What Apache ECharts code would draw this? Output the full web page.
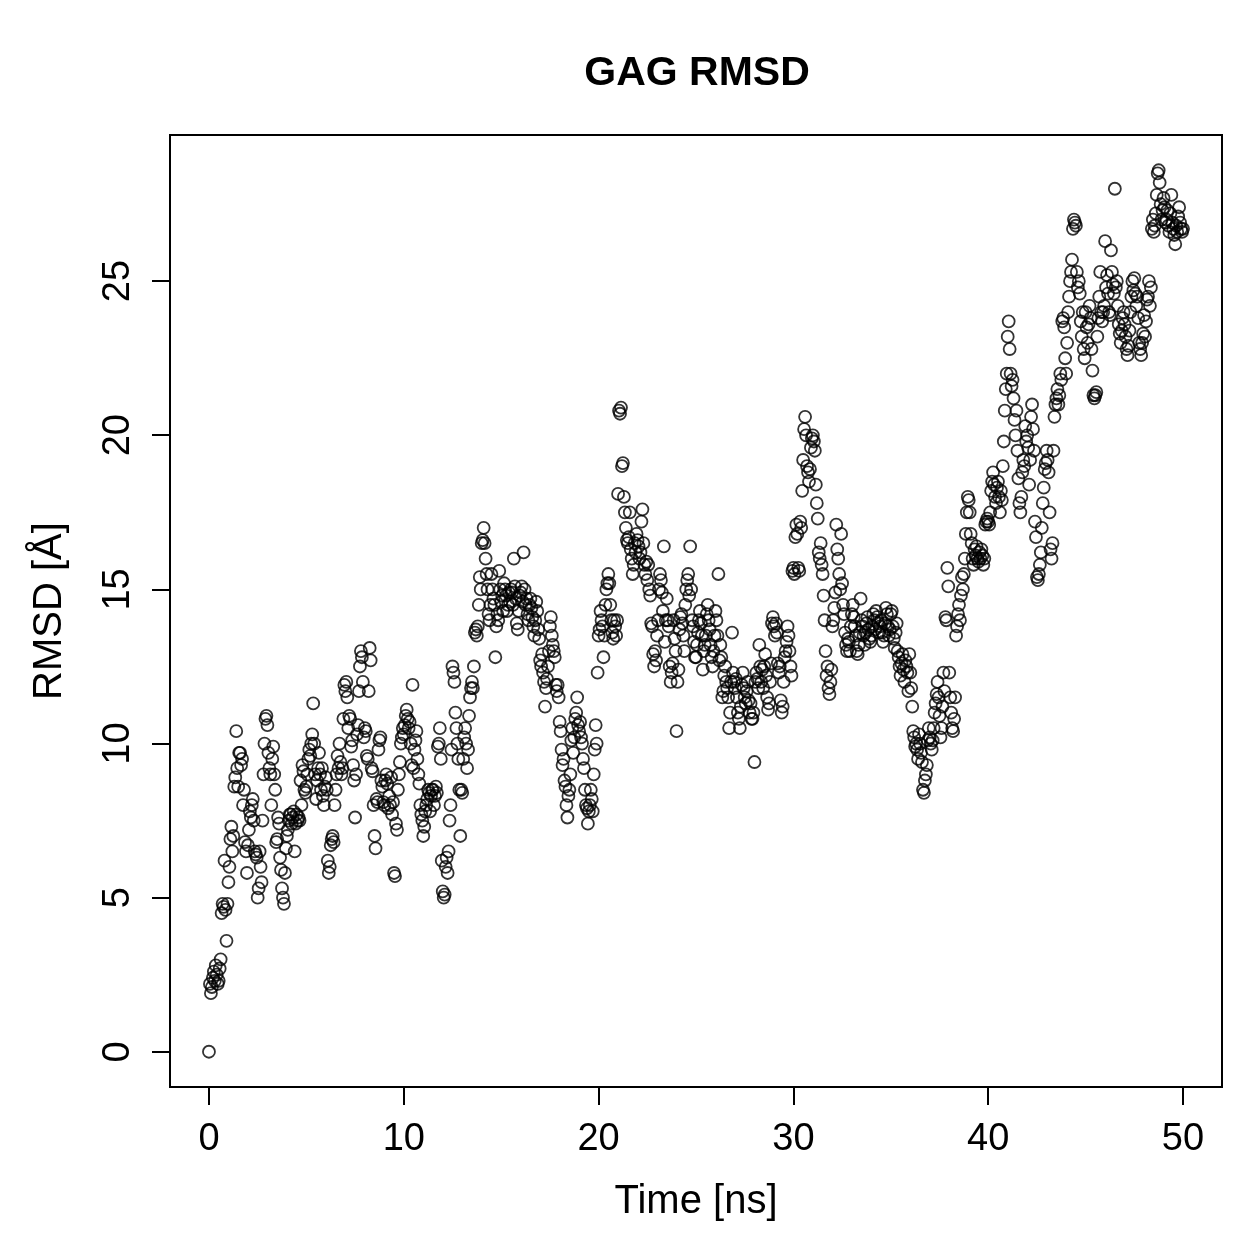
<!DOCTYPE html>
<html>
<head>
<meta charset="utf-8">
<script src="https://cdn.jsdelivr.net/npm/echarts@6/dist/echarts.min.js"></script>
<style>
  html, body { margin: 0; padding: 0; background: #fff; }
  #chart { width: 1259px; height: 1259px; }
</style>
</head>
<body>
<div id="chart"></div>
<script>
// sampling step of the trajectory (ns)
const timeStep = 0.05;

// RMSD [Å], one row per ns (20 frames each)
const rmsd = [
  0.0, 2.2, 1.9, 2.1, 2.4, 2.6, 2.3, 2.8, 2.5, 2.2, 2.3, 2.7, 3.0, 4.5, 4.8, 4.7, 6.2, 4.6, 3.6, 4.8,
  5.5, 6.0, 6.9, 7.3, 6.5, 7.0, 8.6, 8.9, 10.4, 9.2, 8.6, 9.7, 9.7, 9.3, 9.5, 8.0, 8.5, 6.8, 6.5, 5.8,
  6.7, 7.2, 7.8, 7.6, 8.0, 8.2, 7.5, 6.5, 6.4, 6.3, 5.0, 5.3, 6.5, 6.0, 5.5, 7.5, 9.0, 10.0, 10.8, 10.9,
  10.6, 9.7, 9.2, 9.0, 8.0, 9.5, 9.9, 9.0, 8.5, 6.8, 6.9, 7.6, 7.4, 6.3, 5.9, 5.3, 5.0, 4.8, 5.8, 6.6,
  7.0, 7.2, 7.5, 7.7, 7.7, 7.4, 7.6, 7.8, 6.5, 7.4, 7.7, 7.5, 7.6, 7.5, 8.8, 8.0, 9.3, 9.1, 8.5, 8.4,
  8.6, 9.0, 9.5, 9.8, 9.6, 10.0, 10.3, 11.3, 10.0, 9.0, 8.2, 8.8, 9.2, 9.7, 9.0, 8.5, 9.2, 8.3, 8.0, 8.6,
  8.9, 8.5, 6.2, 5.8, 6.0, 6.7, 6.9, 7.0, 6.8, 8.0, 8.5, 9.0, 9.6, 9.2, 10.0, 9.4, 9.0, 9.2, 10.8, 11.9,
  11.7, 12.0, 11.5, 10.5, 10.9, 10.8, 9.9, 10.1, 9.3, 8.8, 7.6, 9.0, 10.3, 10.6, 11.7, 12.5, 13.0, 12.8, 12.0, 10.2,
  10.5, 10.4, 9.6, 9.5, 11.7, 13.1, 12.7, 9.2, 9.1, 8.0, 7.0, 6.6, 8.2, 8.1, 9.8, 10.1, 10.2, 8.8, 8.6, 8.1,
  8.0, 8.8, 9.0, 8.7, 7.9, 8.3, 8.0, 8.9, 7.7, 8.1, 5.8, 5.7, 7.4, 7.2, 8.5, 9.0, 9.4, 10.0, 10.2, 10.5,
  10.3, 10.6, 10.9, 11.1, 10.8, 10.5, 10.7, 10.0, 9.3, 11.9, 9.2, 9.8, 10.1, 10.4, 9.5, 9.0, 8.7, 8.0, 7.7, 7.5,
  7.0, 7.3, 7.8, 8.0, 8.2, 8.5, 8.4, 7.8, 8.3, 8.5, 8.5, 8.0, 8.3, 8.6, 8.4, 9.9, 10.0, 10.5, 9.5, 6.2,
  5.2, 5.0, 5.1, 6.0, 6.3, 5.8, 6.5, 7.5, 8.0, 9.8, 12.5, 12.3, 12.0, 11.0, 10.5, 10.0, 9.5, 8.5, 7.0, 8.5,
  8.4, 9.5, 10.2, 10.5, 10.0, 9.2, 9.8, 10.9, 11.5, 11.8, 12.0, 11.8, 12.5, 13.6, 13.7, 13.5, 13.8, 14.5, 15.4, 15.0,
  16.5, 16.6, 17.0, 16.5, 16.0, 15.5, 15.0, 14.2, 14.0, 14.5, 15.5, 15.0, 14.7, 14.5, 12.8, 13.8, 14.2, 14.0, 15.6, 15.0,
  14.6, 14.8, 14.3, 15.2, 15.0, 14.8, 14.3, 14.5, 14.9, 14.6, 15.0, 14.9, 14.5, 16.0, 15.1, 14.7, 13.9, 13.7, 14.3, 14.8,
  14.9, 15.1, 14.6, 16.2, 15.0, 14.5, 14.7, 14.2, 14.0, 14.5, 14.7, 14.4, 14.1, 13.8, 13.5, 14.0, 14.6, 14.3, 13.7, 13.4,
  12.7, 12.5, 12.9, 12.3, 12.0, 11.2, 11.8, 12.1, 12.5, 13.0, 13.8, 14.1, 13.5, 13.2, 13.0, 12.8, 11.9, 11.7, 11.9, 11.5,
  10.7, 10.4, 9.8, 9.3, 9.5, 8.8, 8.6, 8.0, 7.6, 8.3, 8.5, 9.0, 10.1, 10.5, 9.7, 10.2, 10.8, 11.0, 11.5, 10.6,
  10.4, 10.7, 10.2, 10.0, 9.5, 9.2, 8.5, 8.0, 7.9, 7.4, 7.8, 8.0, 8.5, 8.2, 7.8, 9.0, 9.8, 10.6, 10.0, 12.3,
  13.5, 13.7, 14.3, 14.0, 13.8, 12.8, 13.5, 14.5, 15.0, 15.2, 15.5, 15.2, 14.5, 14.0, 13.6, 13.4, 14.0, 13.8, 13.5, 14.0,
  18.1, 20.8, 20.7, 20.9, 19.0, 19.1, 18.0, 17.5, 17.0, 16.6, 16.5, 16.7, 17.5, 16.3, 16.0, 15.5, 15.8, 16.5, 16.2, 16.8,
  16.6, 16.4, 16.0, 16.2, 17.2, 17.6, 16.5, 15.8, 15.5, 15.9, 15.3, 15.8, 15.0, 14.8, 13.9, 13.8, 12.9, 12.5, 13.0, 12.7,
  13.5, 14.0, 15.0, 15.5, 15.3, 14.9, 14.3, 16.4, 13.3, 14.0, 14.7, 14.0, 13.8, 12.5, 12.0, 12.3, 12.6, 14.0, 13.4, 13.0,
  10.4, 12.0, 12.4, 13.7, 14.1, 14.2, 13.9, 13.5, 13.0, 14.5, 15.0, 15.3, 15.5, 14.8, 16.4, 15.0, 14.0, 13.8, 13.3, 12.8,
  12.8, 13.2, 13.6, 14.0, 14.3, 13.9, 13.5, 12.4, 13.0, 13.2, 13.5, 14.2, 14.5, 14.0, 13.7, 13.2, 12.8, 12.5, 13.0, 13.5,
  14.3, 14.0, 13.5, 15.5, 12.7, 13.2, 12.8, 11.5, 11.7, 12.2, 12.5, 12.0, 11.8, 11.5, 10.5, 11.0, 12.0, 13.6, 12.3, 12.0,
  11.8, 12.1, 11.5, 11.0, 10.8, 10.5, 11.2, 11.9, 12.3, 11.8, 11.5, 11.3, 11.7, 12.0, 11.4, 11.0, 11.3, 10.8, 10.8, 11.0,
  9.4, 12.0, 12.3, 12.1, 11.8, 13.2, 12.5, 12.0, 12.4, 11.8, 12.5, 12.9, 12.2, 11.5, 11.1, 11.3, 12.0, 12.6, 13.9, 14.1,
  13.8, 13.5, 13.9, 13.6, 12.6, 12.3, 12.5, 11.4, 11.0, 11.2, 12.0, 12.8, 13.0, 13.3, 13.8, 13.5, 13.0, 12.5, 12.2, 15.6,
  15.7, 15.5, 16.7, 17.1, 16.8, 15.7, 15.6, 17.2, 17.0, 18.2, 19.2, 20.2, 20.6, 20.0, 19.0, 18.8, 18.5, 18.9, 19.6, 19.9,
  20.0, 19.8, 19.5, 18.4, 17.8, 17.3, 16.2, 16.0, 16.5, 15.8, 15.5, 14.8, 14.0, 13.0, 12.2, 12.5, 11.8, 11.6, 12.0, 12.4,
  13.8, 14.0, 14.4, 14.9, 17.1, 16.3, 16.0, 15.5, 15.0, 16.8, 15.2, 14.5, 14.2, 13.6, 13.2, 13.0, 13.4, 13.3, 13.0, 13.8,
  14.2, 14.5, 14.1, 13.8, 13.5, 13.0, 12.9, 13.2, 13.6, 14.7, 14.0, 13.8, 13.5, 13.2, 13.6, 13.9, 14.1, 13.7, 13.4, 13.3,
  13.5, 13.8, 14.2, 14.0, 13.7, 14.3, 14.1, 13.9, 13.6, 13.8, 14.0, 13.6, 13.3, 13.5, 13.9, 14.4, 14.2, 13.8, 13.5, 13.7,
  14.2, 14.3, 13.8, 13.4, 13.1, 13.6, 13.9, 13.0, 12.8, 12.5, 12.2, 12.6, 12.9, 12.4, 12.0, 12.7, 12.5, 12.3, 11.7, 12.9,
  12.3, 11.8, 11.2, 10.4, 10.2, 9.9, 10.0, 9.8, 9.5, 10.3, 10.0, 9.7, 9.4, 8.5, 8.4, 8.8, 9.0, 9.3, 10.1, 10.5,
  10.2, 10.0, 9.8, 10.1, 10.5, 11.0, 11.3, 11.6, 12.0, 11.5, 10.9, 10.2, 10.5, 11.2, 12.3, 11.7, 14.1, 14.0, 15.7, 15.1,
  12.3, 11.5, 11.0, 10.5, 10.4, 10.8, 11.5, 13.5, 13.8, 14.2, 14.5, 14.0, 14.8, 15.4, 15.0, 15.5, 16.0, 16.8, 17.5, 18.0,
  17.9, 17.5, 16.8, 16.5, 16.0, 15.8, 16.3, 16.1, 16.4, 16.0, 15.9, 16.2, 16.0, 16.3, 16.1, 15.8, 16.0, 17.1, 17.2, 17.3,
  17.2, 17.1, 17.5, 18.2, 18.5, 18.8, 18.4, 18.0, 17.8, 18.3, 18.5, 18.0, 17.5, 18.2, 17.9, 19.0, 19.8, 20.8, 21.5, 22.0,
  23.2, 23.7, 22.8, 22.0, 21.6, 21.8, 21.2, 20.5, 20.0, 20.8, 19.5, 18.6, 17.8, 17.5, 18.0, 18.8, 19.2, 19.0, 20.3, 19.8,
  20.0, 19.6, 18.4, 19.2, 20.6, 21.0, 20.2, 19.5, 17.2, 16.7, 15.4, 15.3, 15.5, 15.8, 16.2, 17.0, 17.8, 18.3, 18.9, 19.1,
  19.5, 19.2, 18.8, 17.5, 16.3, 16.0, 16.5, 19.5, 20.6, 21.0, 21.2, 21.5, 21.0, 21.3, 22.0, 21.8, 23.7, 23.8, 23.5, 22.5,
  22.0, 23.0, 24.0, 24.5, 25.0, 25.3, 25.7, 26.7, 27.0, 26.9, 26.8, 25.3, 24.8, 25.0, 24.6, 23.7, 23.2, 24.0, 22.8, 22.5,
  24.0, 23.5, 23.0, 23.6, 24.2, 23.8, 22.8, 22.1, 21.3, 21.2, 21.3, 21.4, 23.2, 23.8, 24.5, 25.3, 24.0, 23.7, 24.0, 24.2,
  26.3, 24.8, 25.2, 24.6, 24.0, 23.9, 26.0, 25.3, 24.9, 24.6, 28.0, 24.8, 25.0, 24.2, 23.6, 23.3, 23.0, 23.4, 23.8, 24.0,
  23.6, 23.2, 22.8, 22.6, 22.9, 23.4, 24.0, 24.5, 25.0, 24.7, 25.1, 24.6, 24.2, 24.5, 23.8, 23.0, 22.8, 22.6, 23.0, 23.3,
  23.9, 23.2, 23.7, 24.4, 24.5, 25.0, 24.2, 24.8, 26.7, 27.0, 26.6, 26.8, 27.2, 27.8, 28.5, 28.6, 28.2, 27.5, 27.0, 27.3,
  27.7, 27.4, 26.9, 27.0, 27.3, 26.8, 26.6, 27.2, 27.8, 26.9, 26.7, 26.5, 26.2, 26.8, 26.6, 27.1, 27.4, 26.9, 26.7, 26.6,
  26.7
];

// axis ranges: R pads the data range by 4% on each side
const xRange = [-2, 52];
const yRange = [-1.144, 29.744];
const xTickRange = [0, 50];
const yTickRange = [0, 25];

const points = rmsd.map((v, i) => [+(i * timeStep).toFixed(2), v]);

const chart = echarts.init(document.getElementById('chart'), null, { renderer: 'canvas' });

const font = 'Liberation Sans, Arial, Helvetica, sans-serif';
const black = { color: '#000', width: 2 };

chart.setOption({
  animation: false,
  backgroundColor: '#fff',
  textStyle: { fontFamily: font, color: '#000' },
  title: {
    text: 'GAG RMSD',
    left: 692,
    top: 48,
    textAlign: 'center',
    textStyle: { fontFamily: font, fontWeight: 'bold', fontSize: 41, color: '#000' }
  },
  grid: [
    // plot region with the box
    { left: 170, right: 37, top: 135, bottom: 172, show: true, borderColor: '#000', borderWidth: 2 },
    // thin strip under the box holding the x ticks (0..50 only, like R's axis())
    { left: 209, right: 76, top: 1087, bottom: 154 },
    // thin strip left of the box holding the y ticks (0..25 only)
    { left: 152, right: 1089, top: 281, bottom: 207 }
  ],
  xAxis: [
    {
      gridIndex: 0, type: 'value', min: xRange[0], max: xRange[1],
      name: 'Time [ns]', nameLocation: 'middle', nameGap: 95,
      nameTextStyle: { fontFamily: font, fontSize: 40, color: '#000' },
      axisLine: { show: false, onZero: false }, axisTick: { show: false },
      axisLabel: { show: false }, splitLine: { show: false }
    },
    {
      gridIndex: 1, type: 'value', min: xTickRange[0], max: xTickRange[1], interval: 10,
      position: 'bottom',
      axisLine: { show: true, onZero: true, lineStyle: black },
      axisTick: { show: true, inside: false, length: 18, lineStyle: black },
      axisLabel: { margin: 16, fontFamily: font, fontSize: 38, color: '#000' },
      splitLine: { show: false }
    },
    { gridIndex: 2, type: 'value', min: -1, max: 0, show: false }
  ],
  yAxis: [
    {
      gridIndex: 0, type: 'value', min: yRange[0], max: yRange[1],
      name: 'RMSD [Å]', nameLocation: 'middle', nameGap: 100, nameRotate: 90,
      nameTextStyle: { fontFamily: font, fontSize: 40, color: '#000' },
      axisLine: { show: false, onZero: false }, axisTick: { show: false },
      axisLabel: { show: false }, splitLine: { show: false }
    },
    { gridIndex: 1, type: 'value', min: -1, max: 0, show: false },
    {
      gridIndex: 2, type: 'value', min: yTickRange[0], max: yTickRange[1], interval: 5,
      position: 'left',
      axisLine: { show: true, onZero: true, lineStyle: black },
      axisTick: { show: true, inside: false, length: 18, lineStyle: black },
      axisLabel: { rotate: 90, margin: 14, fontFamily: font, fontSize: 38, color: '#000' },
      splitLine: { show: false }
    }
  ],
  series: [{
    type: 'scatter',
    xAxisIndex: 0,
    yAxisIndex: 0,
    data: points,
    symbol: 'circle',
    symbolSize: 12,
    silent: true,
    itemStyle: {
      color: 'rgba(0,0,0,0)',
      borderColor: '#000',
      borderWidth: 1.8
    }
  }]
});
</script>
</body>
</html>
